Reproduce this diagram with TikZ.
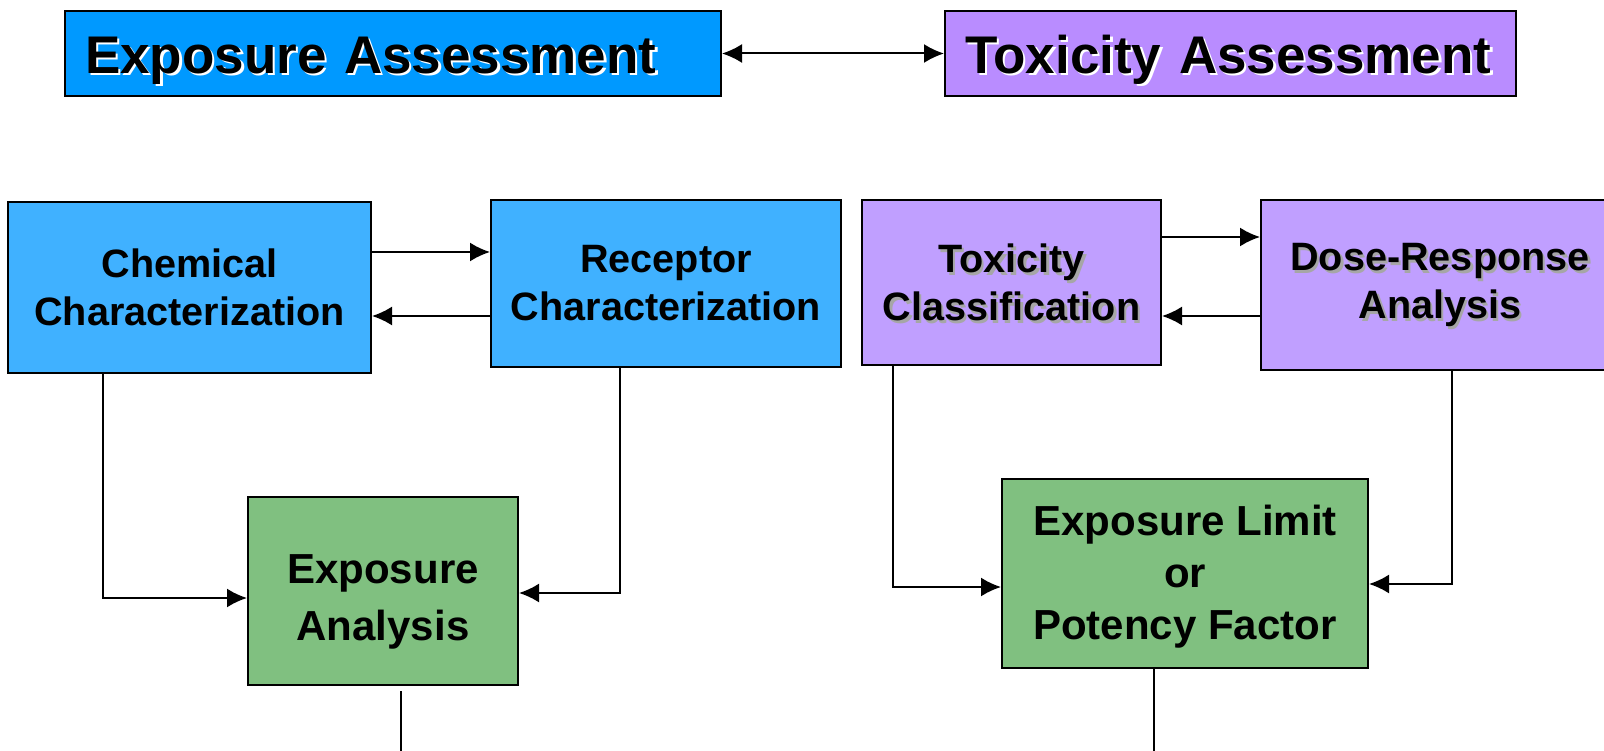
\documentclass[tikz,border=0pt]{standalone}
\usepackage{fontspec}
\setmainfont{Liberation Sans}
\usetikzlibrary{arrows.meta}
\definecolor{expoblue}{HTML}{0099FF}
\definecolor{lightblue}{HTML}{40B1FF}
\definecolor{toxpurple}{HTML}{B98CFF}
\definecolor{lightpurple}{HTML}{C09FFF}
\definecolor{resultgreen}{HTML}{80C080}
\newcommand\shtext[2]{\makebox[0pt][l]{\hspace{2.5pt}\raisebox{-2.5pt}[0pt][0pt]{\color{#1}#2}}#2}

\begin{document}
\begin{tikzpicture}[x=1pt,y=-1pt,>={Latex[length=20pt,width=19pt]},
  titlebox/.style={draw,line width=2pt,minimum height=85pt,inner xsep=20pt,align=left,font=\fontsize{53}{60}\selectfont\bfseries},
  stepbox/.style={draw,line width=2pt,align=center,inner sep=0pt,font=\fontsize{39.6}{48}\selectfont\bfseries},
  resultbox/.style={draw,line width=2pt,align=center,inner sep=0pt,fill=resultgreen},
  link/.style={line width=2pt}]
\clip (0,0) rectangle (1604,751);
\node[titlebox,fill=expoblue,text width=616pt] (expo) at (393,53.5) {\rule{0pt}{51pt}\shtext{white}{Exposure Assessment}};
\node[titlebox,fill=toxpurple,text width=531pt] (tox) at (1230.5,53.5) {\rule{0pt}{51pt}\shtext{white}{Toxicity Assessment}};
\draw[link,<->] (expo) -- (tox);

\node[stepbox,fill=lightblue,minimum width=363pt,minimum height=171pt] (chem) at (189.5,287.5) {Chemical\\Characterization};
\node[stepbox,fill=lightblue,minimum width=350pt,minimum height=167pt] (rec) at (666,283.5) {Receptor\\Characterization};
\node[stepbox,fill=lightpurple,minimum width=299pt,minimum height=165pt] (toxcls) at (1011.5,282.5) {\shtext{black!35}{Toxicity}\\\shtext{black!35}{Classification}};
\node[stepbox,fill=lightpurple,minimum width=358pt,minimum height=170pt] (dose) at (1440,285) {\shtext{black!35}{Dose-Response}\\\shtext{black!35}{Analysis}};
\node[resultbox,minimum width=270pt,minimum height=188pt,font=\fontsize{42}{57}\selectfont\bfseries] (expan) at (383,591) {\rule{0pt}{50pt}Exposure\\Analysis};
\node[resultbox,minimum width=366pt,minimum height=189pt,font=\fontsize{42}{52}\selectfont\bfseries] (explim) at (1185,573.5) {\rule{0pt}{37pt}Exposure Limit\\or\\Potency Factor};

\draw[link,->] (chem.east |- 0,252) -- (rec.west |- 0,252);
\draw[link,->] (rec.west |- 0,316) -- (chem.east |- 0,316);
\draw[link,->] (toxcls.east |- 0,237) -- (dose.west |- 0,237);
\draw[link,->] (dose.west |- 0,316) -- (toxcls.east |- 0,316);

\draw[link,->] (chem.south -| 103,0) |- (expan.west |- 0,598);
\draw[link,->] (rec.south -| 620,0) |- (expan.east |- 0,593);
\draw[link,->] (toxcls.south -| 893,0) |- (explim.west |- 0,587);
\draw[link,->] (dose.south -| 1452,0) |- (explim.east |- 0,584);

\coordinate (outA) at (401,755);
\coordinate (outB) at (1154,755);
\draw[link] (expan.south -| outA) ++(0,5) -- (outA);
\draw[link] (explim.south -| outB) -- (outB);
\end{tikzpicture}
\end{document}
